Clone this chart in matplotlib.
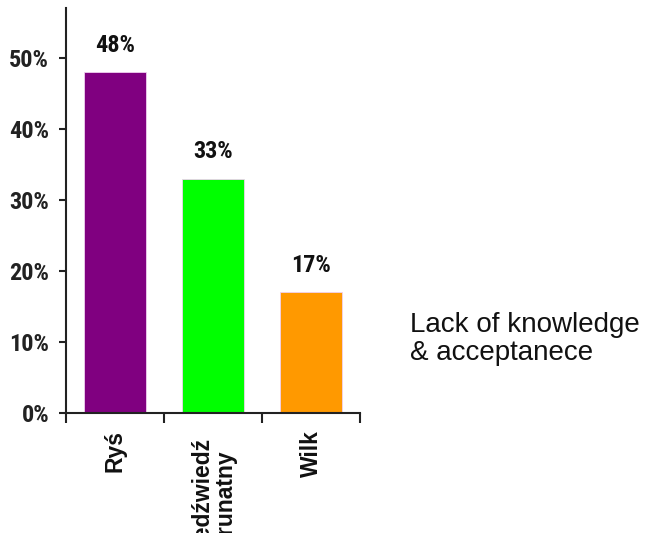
import matplotlib
matplotlib.use("Agg")
import matplotlib.pyplot as plt
from matplotlib.ticker import FuncFormatter

categories = ["Ryś", "Niedźwiedź\nbrunatny", "Wilk"]
values = [48, 33, 17]
colors = ["#800080", "#00FF00", "#FF9900"]
yticks = [0, 10, 20, 30, 40, 50]
note = "Lack of knowledge\n& acceptanece"

W, H = 646, 533
fig = plt.figure(figsize=(W / 100, H / 100), dpi=100)
ax = fig.add_axes([66 / W, (H - 413) / H, (360 - 66) / W, (413 - 8) / H])

x = list(range(len(categories)))
ax.bar(x, values, width=0.63, color=colors, edgecolor="#f0d0f0", linewidth=0.6)

narrow = ["Roboto Condensed", "Liberation Sans Narrow", "DejaVu Sans"]
for xi, v in zip(x, values):
    ax.annotate(f"{v}%", (xi, v), xytext=(0, 11), textcoords="offset points",
                ha="center", va="bottom", fontsize=17.5, fontweight="bold",
                family=narrow, stretch="condensed", color="#111111")

ax.set_xlim(-0.5, len(categories) - 0.5)
ax.set_ylim(0, 57)
ax.set_yticks(yticks)
ax.yaxis.set_major_formatter(FuncFormatter(lambda v, p: f"{int(v)}%"))
for lab in ax.get_yticklabels():
    lab.set_family(narrow)
    lab.set_stretch("condensed")
    lab.set_fontsize(17.5)
    lab.set_fontweight("bold")
ax.tick_params(axis="y", direction="out", length=5, width=1.5, pad=7, colors="#222222")

# category boundary ticks on x axis
ax.set_xticks([i - 0.5 for i in range(len(categories) + 1)])
ax.set_xticklabels([])
ax.tick_params(axis="x", direction="out", length=7, width=1.5, colors="#222222")

for xi, c in zip(x, categories):
    extra = 4.5 if "\n" in c else 0
    ax.annotate(c, (xi, 0), xytext=(0, -12.5 - extra), textcoords="offset points",
                rotation=90, ha="center", va="top", multialignment="center",
                fontsize=16.5, fontweight="bold", family=["Liberation Sans", "DejaVu Sans"],
                color="#111111", linespacing=1.0, annotation_clip=False)

for s in ["top", "right"]:
    ax.spines[s].set_visible(False)
for s in ["left", "bottom"]:
    ax.spines[s].set_linewidth(1.5)
    ax.spines[s].set_color("#222222")

fig.text(410 / W, 1 - 312 / H, note, ha="left", va="top", fontsize=20,
         family=["Liberation Sans", "DejaVu Sans"], linespacing=1.1, color="#111111")

fig.savefig("out.png", dpi=100)
